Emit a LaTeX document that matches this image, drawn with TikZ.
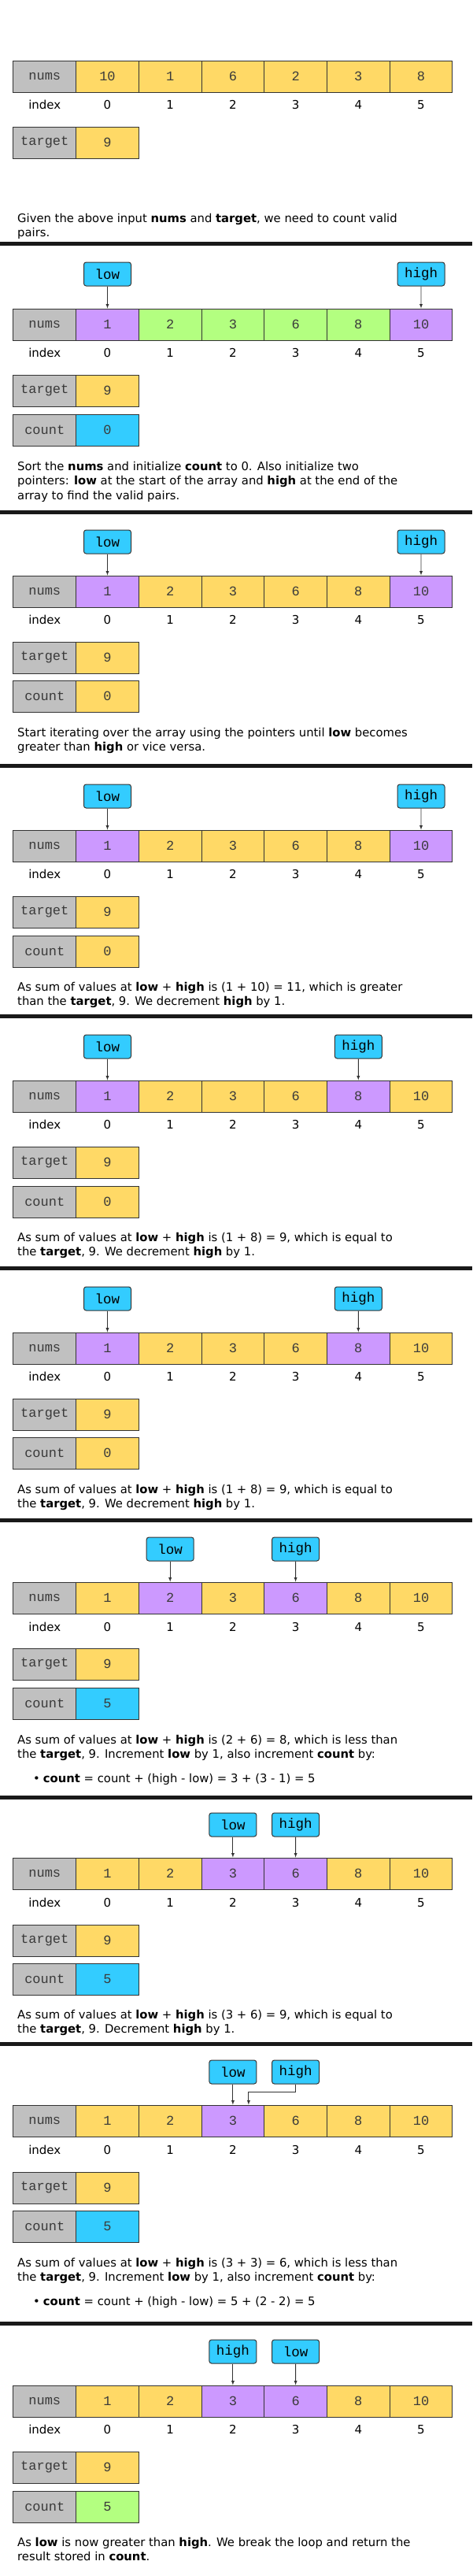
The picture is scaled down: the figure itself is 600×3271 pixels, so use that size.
\documentclass[tikz,border=0pt]{standalone}
\usepackage{fontspec}
\setmainfont{DejaVu Sans}
\setmonofont{Liberation Mono}
\usepackage{tikz}
\usetikzlibrary{arrows}

\definecolor{yel}{HTML}{FFD966}
\definecolor{pur}{HTML}{CC99FF}
\definecolor{grn}{HTML}{B3FF80}
\definecolor{cyn}{HTML}{33CCFF}
\definecolor{lgray}{HTML}{C0C0C0}
\definecolor{edge}{HTML}{333333}
\definecolor{celltext}{HTML}{3A3A3A}

\tikzset{
  cell/.style={draw=edge, line width=1pt, minimum width=79.7pt, minimum height=40pt,
    inner sep=0pt, text=celltext, font=\ttfamily\fontsize{17}{17}\selectfont},
  namecell/.style={cell, fill=lgray},
  ptrbox/.style={draw=edge, line width=1pt, rounded corners=3pt, fill=cyn,
    minimum width=60pt, minimum height=30pt, inner sep=0pt,
    font=\ttfamily\fontsize{17.5}{17.5}\selectfont},
  ptr/.style={->, >=latex, line width=0.9pt, edge},
  idx/.style={inner sep=0pt, font=\fontsize{15}{15}\selectfont},
  note/.style={anchor=north west, align=left, inner sep=0pt,
    font=\fontsize{14.8}{18.3}\selectfont},
  sepbar/.style={fill=black!90}
}

\begin{document}
\begin{tikzpicture}[x=1pt, y=-1pt]
\useasboundingbox (0,0) rectangle (600,3271);

% Separators
\foreach \s in {307,648,970,1288,1608,1928,2280,2593,2948}
  \fill[sepbar] (0,\s) rectangle (600,\s+5);

% Panel 1
\node[namecell] (p1nums) at (56.8,97) {nums};
\foreach \v [count=\i from 0] in {10,1,6,2,3,8}
  \node[cell, fill=yel] (p1c\i) at (136.5+79.7*\i,97) {\v};
\node[idx] (p1index) at (56.8,133) {index};
\foreach \i in {0,...,5}
  \node[idx] (p1i\i) at (136.5+79.7*\i,133) {\i};
\node[namecell] (p1tname) at (56.8,181) {target};
\node[cell, fill=yel] (p1t) at (136.5,181) {9};
\node[note] (p1text) at (22,271) {Given the above input \textbf{nums} and \textbf{target}, we need to count valid\\pairs.};

% Panel 2
\node[namecell] (p2nums) at (56.8,412) {nums};
\foreach \v/\c [count=\i from 0] in {1/pur,2/grn,3/grn,6/grn,8/grn,10/pur}
  \node[cell, fill=\c] (p2c\i) at (136.5+79.7*\i,412) {\v};
\node[idx] (p2index) at (56.8,448) {index};
\foreach \i in {0,...,5}
  \node[idx] (p2i\i) at (136.5+79.7*\i,448) {\i};
\node[namecell] (p2tname) at (56.8,496) {target};
\node[cell, fill=yel] (p2t) at (136.5,496) {9};
\node[namecell] (p2cname) at (56.8,546) {count};
\node[cell, fill=cyn] (p2cnt) at (136.5,546) {0};
\node[ptrbox] (p2low) at (136.5,348) {low};
\node[ptrbox] (p2high) at (535,348) {high};
\draw[ptr] (p2low) -- (p2c0);
\draw[ptr] (p2high) -- (p2c5);
\node[note] (p2text) at (22,586) {Sort the \textbf{nums} and initialize \textbf{count} to 0. Also initialize two\\pointers: \textbf{low} at the start of the array and \textbf{high} at the end of the\\array to find the valid pairs.};

% Panel 3
\node[namecell] (p3nums) at (56.8,751) {nums};
\foreach \v/\c [count=\i from 0] in {1/pur,2/yel,3/yel,6/yel,8/yel,10/pur}
  \node[cell, fill=\c] (p3c\i) at (136.5+79.7*\i,751) {\v};
\node[idx] (p3index) at (56.8,787) {index};
\foreach \i in {0,...,5}
  \node[idx] (p3i\i) at (136.5+79.7*\i,787) {\i};
\node[namecell] (p3tname) at (56.8,835) {target};
\node[cell, fill=yel] (p3t) at (136.5,835) {9};
\node[namecell] (p3cname) at (56.8,884) {count};
\node[cell, fill=yel] (p3cnt) at (136.5,884) {0};
\node[ptrbox] (p3low) at (136.5,688) {low};
\node[ptrbox] (p3high) at (535,688) {high};
\draw[ptr] (p3low) -- (p3c0);
\draw[ptr] (p3high) -- (p3c5);
\node[note] (p3text) at (22,924) {Start iterating over the array using the pointers until \textbf{low} becomes\\greater than \textbf{high} or vice versa.};

% Panel 4
\node[namecell] (p4nums) at (56.8,1074) {nums};
\foreach \v/\c [count=\i from 0] in {1/pur,2/yel,3/yel,6/yel,8/yel,10/pur}
  \node[cell, fill=\c] (p4c\i) at (136.5+79.7*\i,1074) {\v};
\node[idx] (p4index) at (56.8,1110) {index};
\foreach \i in {0,...,5}
  \node[idx] (p4i\i) at (136.5+79.7*\i,1110) {\i};
\node[namecell] (p4tname) at (56.8,1158) {target};
\node[cell, fill=yel] (p4t) at (136.5,1158) {9};
\node[namecell] (p4cname) at (56.8,1208) {count};
\node[cell, fill=yel] (p4cnt) at (136.5,1208) {0};
\node[ptrbox] (p4low) at (136.5,1011) {low};
\node[ptrbox] (p4high) at (535,1011) {high};
\draw[ptr] (p4low) -- (p4c0);
\draw[ptr] (p4high) -- (p4c5);
\node[note] (p4text) at (22,1247) {As sum of values at \textbf{low} + \textbf{high} is (1 + 10) = 11, which is greater\\than the \textbf{target}, 9. We decrement \textbf{high} by 1.};

% Panel 5
\node[namecell] (p5nums) at (56.8,1392) {nums};
\foreach \v/\c [count=\i from 0] in {1/pur,2/yel,3/yel,6/yel,8/pur,10/yel}
  \node[cell, fill=\c] (p5c\i) at (136.5+79.7*\i,1392) {\v};
\node[idx] (p5index) at (56.8,1428) {index};
\foreach \i in {0,...,5}
  \node[idx] (p5i\i) at (136.5+79.7*\i,1428) {\i};
\node[namecell] (p5tname) at (56.8,1476) {target};
\node[cell, fill=yel] (p5t) at (136.5,1476) {9};
\node[namecell] (p5cname) at (56.8,1526) {count};
\node[cell, fill=yel] (p5cnt) at (136.5,1526) {0};
\node[ptrbox] (p5low) at (136.5,1329) {low};
\node[ptrbox] (p5high) at (455.3,1329) {high};
\draw[ptr] (p5low) -- (p5c0);
\draw[ptr] (p5high) -- (p5c4);
\node[note] (p5text) at (22,1565) {As sum of values at \textbf{low} + \textbf{high} is (1 + 8) = 9, which is equal to\\the \textbf{target}, 9. We decrement \textbf{high} by 1.};

% Panel 6
\node[namecell] (p6nums) at (56.8,1712) {nums};
\foreach \v/\c [count=\i from 0] in {1/pur,2/yel,3/yel,6/yel,8/pur,10/yel}
  \node[cell, fill=\c] (p6c\i) at (136.5+79.7*\i,1712) {\v};
\node[idx] (p6index) at (56.8,1748) {index};
\foreach \i in {0,...,5}
  \node[idx] (p6i\i) at (136.5+79.7*\i,1748) {\i};
\node[namecell] (p6tname) at (56.8,1796) {target};
\node[cell, fill=yel] (p6t) at (136.5,1796) {9};
\node[namecell] (p6cname) at (56.8,1845) {count};
\node[cell, fill=yel] (p6cnt) at (136.5,1845) {0};
\node[ptrbox] (p6low) at (136.5,1649) {low};
\node[ptrbox] (p6high) at (455.3,1649) {high};
\draw[ptr] (p6low) -- (p6c0);
\draw[ptr] (p6high) -- (p6c4);
\node[note] (p6text) at (22,1885) {As sum of values at \textbf{low} + \textbf{high} is (1 + 8) = 9, which is equal to\\the \textbf{target}, 9. We decrement \textbf{high} by 1.};

% Panel 7
\node[namecell] (p7nums) at (56.8,2029) {nums};
\foreach \v/\c [count=\i from 0] in {1/yel,2/pur,3/yel,6/pur,8/yel,10/yel}
  \node[cell, fill=\c] (p7c\i) at (136.5+79.7*\i,2029) {\v};
\node[idx] (p7index) at (56.8,2066) {index};
\foreach \i in {0,...,5}
  \node[idx] (p7i\i) at (136.5+79.7*\i,2066) {\i};
\node[namecell] (p7tname) at (56.8,2113) {target};
\node[cell, fill=yel] (p7t) at (136.5,2113) {9};
\node[namecell] (p7cname) at (56.8,2163) {count};
\node[cell, fill=cyn] (p7cnt) at (136.5,2163) {5};
\node[ptrbox] (p7low) at (216.2,1967) {low};
\node[ptrbox] (p7high) at (375.6,1967) {high};
\draw[ptr] (p7low) -- (p7c1);
\draw[ptr] (p7high) -- (p7c3);
\node[note] (p7text) at (22,2203) {As sum of values at \textbf{low} + \textbf{high} is (2 + 6) = 8, which is less than\\the \textbf{target}, 9. Increment \textbf{low} by 1, also increment \textbf{count} by:};
\node[note] (p7item) at (42,2252) {\textbullet\hspace{4pt}\textbf{count} = count + (high - low) = 3 + (3 - 1) = 5};

% Panel 8
\node[namecell] (p8nums) at (56.8,2379) {nums};
\foreach \v/\c [count=\i from 0] in {1/yel,2/yel,3/pur,6/pur,8/yel,10/yel}
  \node[cell, fill=\c] (p8c\i) at (136.5+79.7*\i,2379) {\v};
\node[idx] (p8index) at (56.8,2416) {index};
\foreach \i in {0,...,5}
  \node[idx] (p8i\i) at (136.5+79.7*\i,2416) {\i};
\node[namecell] (p8tname) at (56.8,2464) {target};
\node[cell, fill=yel] (p8t) at (136.5,2464) {9};
\node[namecell] (p8cname) at (56.8,2513) {count};
\node[cell, fill=cyn] (p8cnt) at (136.5,2513) {5};
\node[ptrbox] (p8low) at (295.9,2317) {low};
\node[ptrbox] (p8high) at (375.6,2317) {high};
\draw[ptr] (p8low) -- (p8c2);
\draw[ptr] (p8high) -- (p8c3);
\node[note] (p8text) at (22,2552) {As sum of values at \textbf{low} + \textbf{high} is (3 + 6) = 9, which is equal to\\the \textbf{target}, 9. Decrement \textbf{high} by 1.};

% Panel 9
\node[namecell] (p9nums) at (56.8,2693) {nums};
\foreach \v/\c [count=\i from 0] in {1/yel,2/yel,3/pur,6/yel,8/yel,10/yel}
  \node[cell, fill=\c] (p9c\i) at (136.5+79.7*\i,2693) {\v};
\node[idx] (p9index) at (56.8,2730) {index};
\foreach \i in {0,...,5}
  \node[idx] (p9i\i) at (136.5+79.7*\i,2730) {\i};
\node[namecell] (p9tname) at (56.8,2778) {target};
\node[cell, fill=yel] (p9t) at (136.5,2778) {9};
\node[namecell] (p9cname) at (56.8,2827) {count};
\node[cell, fill=cyn] (p9cnt) at (136.5,2827) {5};
\node[ptrbox] (p9low) at (295.9,2631) {low};
\node[ptrbox] (p9high) at (375.6,2631) {high};
\draw[ptr] (p9low) -- (p9c2);
\draw[ptr] (p9high.south) -- ++(0,10) -| ([xshift=20pt]p9c2.north);
\node[note] (p9text) at (22,2867) {As sum of values at \textbf{low} + \textbf{high} is (3 + 3) = 6, which is less than\\the \textbf{target}, 9. Increment \textbf{low} by 1, also increment \textbf{count} by:};
\node[note] (p9item) at (42,2916) {\textbullet\hspace{4pt}\textbf{count} = count + (high - low) = 5 + (2 - 2) = 5};

% Panel 10
\node[namecell] (p10nums) at (56.8,3049) {nums};
\foreach \v/\c [count=\i from 0] in {1/yel,2/yel,3/pur,6/pur,8/yel,10/yel}
  \node[cell, fill=\c] (p10c\i) at (136.5+79.7*\i,3049) {\v};
\node[idx] (p10index) at (56.8,3085) {index};
\foreach \i in {0,...,5}
  \node[idx] (p10i\i) at (136.5+79.7*\i,3085) {\i};
\node[namecell] (p10tname) at (56.8,3133) {target};
\node[cell, fill=yel] (p10t) at (136.5,3133) {9};
\node[namecell] (p10cname) at (56.8,3183) {count};
\node[cell, fill=grn] (p10cnt) at (136.5,3183) {5};
\node[ptrbox] (p10high) at (295.9,2986) {high};
\node[ptrbox] (p10low) at (375.6,2986) {low};
\draw[ptr] (p10high) -- (p10c2);
\draw[ptr] (p10low) -- (p10c3);
\node[note] (p10text) at (22,3222) {As \textbf{low} is now greater than \textbf{high}. We break the loop and return the\\result stored in \textbf{count}.};

\end{tikzpicture}
\end{document}
